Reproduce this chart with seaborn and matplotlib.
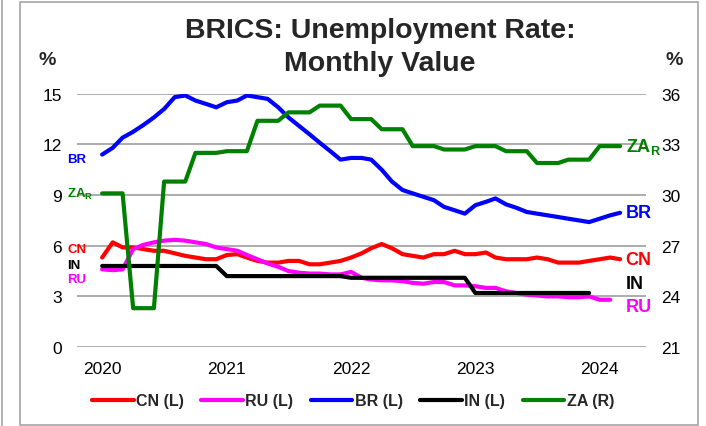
import matplotlib
matplotlib.use('Agg')

import pandas as pd
import matplotlib.pyplot as plt
import seaborn as sns
from matplotlib.lines import Line2D
from matplotlib.patches import Rectangle

# ---------------- DATA ----------------
months = pd.date_range("2020-01-01", periods=51, freq="MS")

cn = [5.3, 6.2, 5.9, 5.9, 5.8, 5.7, 5.7, 5.55, 5.4, 5.3, 5.2, 5.2,
      5.45, 5.5, 5.3, 5.1, 5.0, 5.0, 5.1, 5.1, 4.9, 4.9, 5.0, 5.1,
      5.3, 5.55, 5.85, 6.1, 5.85, 5.5, 5.4, 5.3, 5.5, 5.5, 5.7, 5.5,
      5.5, 5.6, 5.3, 5.2, 5.2, 5.2, 5.3, 5.2, 5.0, 5.0, 5.0, 5.1,
      5.2, 5.3, 5.2]

ru = [4.6, 4.55, 4.6, 5.8, 6.05, 6.2, 6.3, 6.35, 6.3, 6.2, 6.1, 5.9,
      5.8, 5.7, 5.45, 5.2, 4.95, 4.75, 4.5, 4.4, 4.35, 4.35, 4.3, 4.3,
      4.45, 4.1, 4.0, 3.95, 3.95, 3.9, 3.8, 3.75, 3.85, 3.85, 3.65, 3.65,
      3.6, 3.5, 3.5, 3.3, 3.2, 3.1, 3.05, 3.0, 3.0, 2.95, 2.95, 3.0,
      2.8, 2.8]

br = [11.4, 11.8, 12.4, 12.75, 13.15, 13.6, 14.1, 14.8, 14.9, 14.6, 14.4, 14.2,
      14.5, 14.6, 14.9, 14.8, 14.7, 14.2, 13.6, 13.1, 12.6, 12.1, 11.6, 11.1,
      11.2, 11.2, 11.1, 10.5, 9.8, 9.3, 9.1, 8.9, 8.7, 8.3, 8.1, 7.9,
      8.4, 8.6, 8.8, 8.45, 8.25, 8.0, 7.9, 7.8, 7.7, 7.6, 7.5, 7.4,
      7.6, 7.8, 7.95]

ind = [4.8, 4.8, 4.8, 4.8, 4.8, 4.8, 4.8, 4.8, 4.8, 4.8, 4.8, 4.8,
       4.2, 4.2, 4.2, 4.2, 4.2, 4.2, 4.2, 4.2, 4.2, 4.2, 4.2, 4.2,
       4.1, 4.1, 4.1, 4.1, 4.1, 4.1, 4.1, 4.1, 4.1, 4.1, 4.1, 4.1,
       3.2, 3.2, 3.2, 3.2, 3.2, 3.2, 3.2, 3.2, 3.2, 3.2, 3.2, 3.2]

za = [30.1, 30.1, 30.1, 23.3, 23.3, 23.3, 30.8, 30.8, 30.8, 32.5, 32.5, 32.5,
      32.6, 32.6, 32.6, 34.4, 34.4, 34.4, 34.9, 34.9, 34.9, 35.3, 35.3, 35.3,
      34.5, 34.5, 34.5, 33.9, 33.9, 33.9, 32.9, 32.9, 32.9, 32.7, 32.7, 32.7,
      32.9, 32.9, 32.9, 32.6, 32.6, 32.6, 31.9, 31.9, 31.9, 32.1, 32.1, 32.1,
      32.9, 32.9, 32.9]

year_ticks = ["2020-01-01", "2021-01-01", "2022-01-01", "2023-01-01", "2024-01-01"]
year_labels = ["2020", "2021", "2022", "2023", "2024"]
left_ticks = [0, 3, 6, 9, 12, 15]
right_ticks = [21, 24, 27, 30, 33, 36]
# --------------------------------------

RED, MAGENTA, BLUE, BLACK, GREEN = "#FF0000", "#FF00FF", "#0000FF", "#000000", "#008000"
LW = 3

sns.set_style("white")
plt.rcParams['font.family'] = ['Liberation Sans', 'DejaVu Sans']
plt.rcParams['mathtext.fontset'] = 'custom'
plt.rcParams['mathtext.rm'] = 'Liberation Sans'
plt.rcParams['mathtext.bf'] = 'Liberation Sans:bold'

fig = plt.figure(figsize=(7.06, 4.27), dpi=100)
ax = fig.add_axes([0.109, 0.185, 0.806, 0.593])
ax2 = ax.twinx()

sns.lineplot(x=months, y=cn, ax=ax, color=RED, linewidth=LW)
sns.lineplot(x=months[:len(ru)], y=ru, ax=ax, color=MAGENTA, linewidth=LW)
sns.lineplot(x=months, y=br, ax=ax, color=BLUE, linewidth=LW)
sns.lineplot(x=months[:len(ind)], y=ind, ax=ax, color=BLACK, linewidth=LW)
sns.lineplot(x=months, y=za, ax=ax2, color=GREEN, linewidth=LW)

ax.set_ylim(0, 15)
ax2.set_ylim(21, 36)
ax.set_xlim(pd.Timestamp("2019-10-19"), pd.Timestamp("2024-05-16"))
ax.set_yticks(left_ticks)
ax2.set_yticks(right_ticks)
ax.set_xticks(pd.to_datetime(year_ticks))
ax.set_xticklabels(year_labels)
ax.set_xlabel("")
ax.set_ylabel("")
ax2.set_ylabel("")

for a in (ax, ax2):
    for s in a.spines.values():
        s.set_visible(False)
    a.tick_params(length=0, labelsize=12.5, colors="black")
ax.tick_params(axis='y', pad=11)
ax2.tick_params(axis='y', pad=11)
ax.tick_params(axis='x', pad=10)
ax.yaxis.grid(True, color="#A6A6A6", linewidth=1.3)
ax.set_axisbelow(True)

# title and unit labels
fig.text(0.538, 1 - 31 / 427, "BRICS: Unemployment Rate:", ha="center", va="center",
         fontsize=20.5, fontweight="bold")
fig.text(0.538, 1 - 64 / 427, "Monthly Value", ha="center", va="center",
         fontsize=20.5, fontweight="bold")
fig.text(47 / 706, 1 - 61 / 427, "%", ha="center", va="center", fontsize=14, fontweight="bold")
fig.text(674 / 706, 1 - 61 / 427, "%", ha="center", va="center", fontsize=14, fontweight="bold")

# start labels
start = months[0]
ax.annotate("BR", (start, br[0]), xytext=(-25, -3), textcoords="offset points",
            color=BLUE, fontsize=9.5, fontweight="bold", va="center")
ax2.annotate(r"ZA$_\mathbf{R}$", (start, za[0]), xytext=(-25, 0), textcoords="offset points",
             color=GREEN, fontsize=9.5, fontweight="bold", va="center")
ax.annotate("CN", (start, cn[0]), xytext=(-25, 6), textcoords="offset points",
            color=RED, fontsize=9.5, fontweight="bold", va="center")
ax.annotate("IN", (start, ind[0]), xytext=(-25, 1), textcoords="offset points",
            color=BLACK, fontsize=9.5, fontweight="bold", va="center")
ax.annotate("RU", (start, ru[0]), xytext=(-25, -7), textcoords="offset points",
            color=MAGENTA, fontsize=9.5, fontweight="bold", va="center")

# end labels
end = months[-1]
ax2.annotate(r"ZA$_\mathbf{R}$", (end, za[-1]), xytext=(4, 0), textcoords="offset points",
             color=GREEN, fontsize=13, fontweight="bold", va="center")
ax.annotate("BR", (end, br[-1]), xytext=(4, 0), textcoords="offset points",
            color=BLUE, fontsize=13, fontweight="bold", va="center")
ax.annotate("CN", (end, cn[-1]), xytext=(4, 0), textcoords="offset points",
            color=RED, fontsize=13, fontweight="bold", va="center")
ax.annotate("IN", (end, ind[-1]), xytext=(4, 7), textcoords="offset points",
            color=BLACK, fontsize=13, fontweight="bold", va="center")
ax.annotate("RU", (end, ru[-1]), xytext=(4, -5), textcoords="offset points",
            color=MAGENTA, fontsize=13, fontweight="bold", va="center")

# legend
handles = [Line2D([], [], color=c, linewidth=LW) for c in (RED, MAGENTA, BLUE, BLACK, GREEN)]
labels = ["CN (L)", "RU (L)", "BR (L)", "IN (L)", "ZA (R)"]
fig.legend(handles, labels, loc="center", bbox_to_anchor=(0.5, 1 - 402 / 427), ncol=5,
           frameon=False, prop={"weight": "bold", "size": 11.5}, handlelength=2.6,
           handletextpad=0.15, columnspacing=1.1)

# chart frame
fig.patches.append(Rectangle((20 / 706, 1 / 427), 678 / 706, 423 / 427, transform=fig.transFigure,
                             fill=False, edgecolor="#A6A6A6", linewidth=1.2))
fig.lines.append(Line2D([2 / 706, 2 / 706], [0, 1], transform=fig.transFigure,
                        color="#A6A6A6", linewidth=1.2))

fig.savefig("out.png", dpi=100)
